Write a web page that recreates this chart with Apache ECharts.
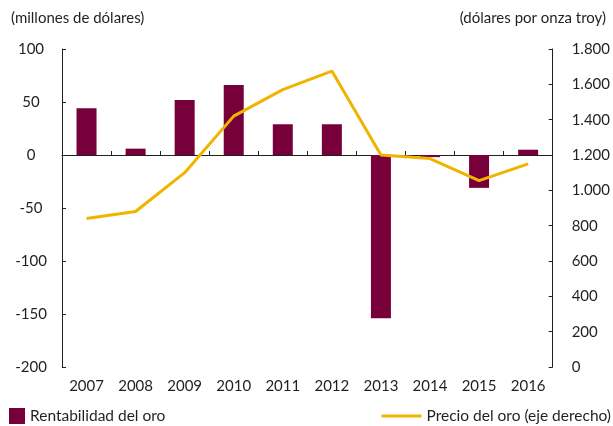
<!DOCTYPE html>
<html><head><meta charset="utf-8">
<script src="https://cdn.jsdelivr.net/npm/echarts@6/dist/echarts.min.js"></script>
<style>html,body{margin:0;padding:0;background:#fff}#c{width:613px;height:426px}</style>
</head><body><div id="c"></div>
<script>
var years = ['2007','2008','2009','2010','2011','2012','2013','2014','2015','2016'];
var rentabilidad = [44, 6, 52, 66, 29, 29, -154, -2, -31, 5];
var precio = [840, 880, 1100, 1420, 1570, 1675, 1200, 1180, 1055, 1150];
var leftTicks = {min: -200, max: 100, interval: 50};
var rightTicks = {min: 0, max: 1800, interval: 200};

var FONT = 'Lato';
var TXT = '#231f20';
var chart = echarts.init(document.getElementById('c'), null, {renderer: 'canvas'});
function fmtThousands(v){ return String(v).replace(/\B(?=(\d{3})+(?!\d))/g, '.'); }
chart.setOption({
  animation: false,
  textStyle: {fontFamily: FONT, color: TXT},
  title: [
    {text: '(millones de dólares)', left: 6, top: 6, textStyle: {fontFamily: FONT, fontSize: 15, fontWeight: 'normal', color: TXT}},
    {text: '(dólares por onza troy)', right: 2, top: 6, textStyle: {fontFamily: FONT, fontSize: 15, fontWeight: 'normal', color: TXT}}
  ],
  grid: {left: 62, right: 60, top: 49, bottom: 59, containLabel: false},
  legend: [
    {data: ['Rentabilidad del oro'], left: 9, bottom: 2, padding: 0, icon: 'rect', itemWidth: 16, itemHeight: 16,
     textStyle: {fontFamily: FONT, fontSize: 15.5, color: TXT}},
    {data: ['Precio del oro (eje derecho)'], right: 2, bottom: 2, padding: 0, icon: 'rect', itemWidth: 40, itemHeight: 3,
     textStyle: {fontFamily: FONT, fontSize: 15.5, color: TXT}}
  ],
  xAxis: [
    {type: 'category', data: years, position: 'bottom',
     axisLine: {show: false}, axisTick: {show: false},
     axisLabel: {margin: 12, fontSize: 15, color: TXT, fontFamily: FONT}},
    {type: 'category', data: years, position: 'bottom',
     axisLine: {show: true, onZero: true, onZeroAxisIndex: 0, lineStyle: {color: '#231f20', width: 1}},
     axisTick: {show: true, inside: true, length: 4, lineStyle: {color: '#231f20'}},
     axisLabel: {show: false}}
  ],
  yAxis: [
    {type: 'value', min: leftTicks.min, max: leftTicks.max, interval: leftTicks.interval, position: 'left',
     axisLine: {show: true, lineStyle: {color: '#231f20'}},
     axisTick: {show: true, inside: true, length: 4, lineStyle: {color: '#231f20'}},
     splitLine: {show: false},
     axisLabel: {fontSize: 15, color: TXT, fontFamily: FONT, align: 'center', margin: 31}},
    {type: 'value', min: rightTicks.min, max: rightTicks.max, interval: rightTicks.interval, position: 'right',
     axisLine: {show: true, lineStyle: {color: '#231f20'}},
     axisTick: {show: true, inside: true, length: 4, lineStyle: {color: '#231f20'}},
     splitLine: {show: false},
     axisLabel: {fontSize: 15, color: TXT, fontFamily: FONT, align: 'left', margin: 19, formatter: fmtThousands}}
  ],
  series: [
    {name: 'Rentabilidad del oro', type: 'bar', data: rentabilidad, xAxisIndex: 0, yAxisIndex: 0,
     barWidth: 20, itemStyle: {color: '#78003a'}, z: 2},
    {name: 'Precio del oro (eje derecho)', type: 'line', data: precio, xAxisIndex: 0, yAxisIndex: 1,
     symbol: 'none', lineStyle: {color: '#f0b400', width: 3}, itemStyle: {color: '#f0b400'}, z: 3}
  ]
});
</script></body></html>
